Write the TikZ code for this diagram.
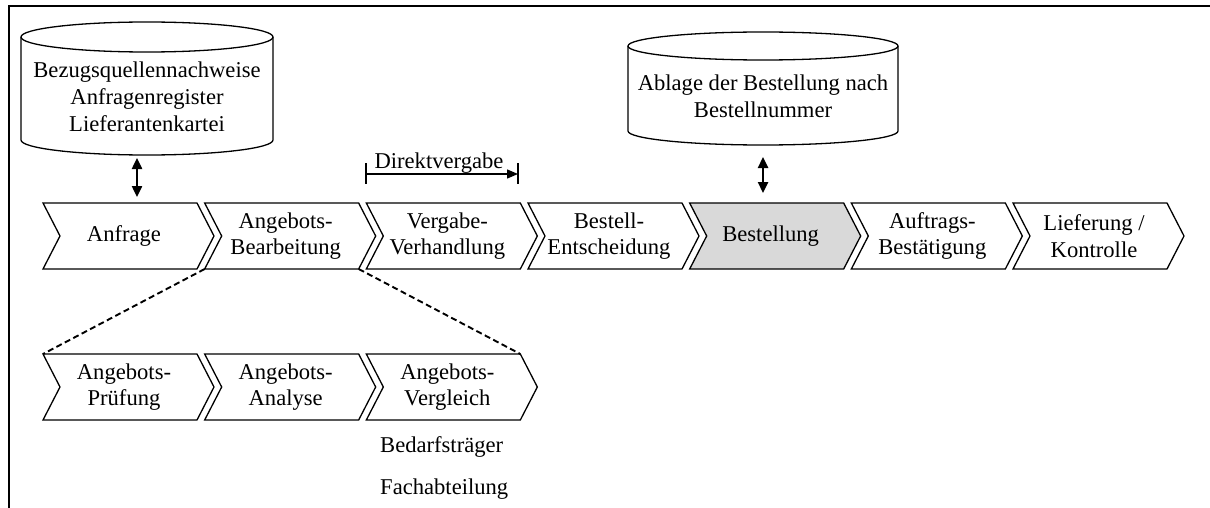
\documentclass[tikz,border=0pt]{standalone}
\usepackage{fontspec}
\setmainfont{Liberation Serif}
\usetikzlibrary{arrows.meta,calc}

% chevron step: name, left x, top y, fill colour, label
\newcommand\chevronstep[5]{%
  \draw[chevline, fill=#4] (#2,#3) coordinate (#1-tl) -- ++(154,0) coordinate (#1-tr)
    -- ++(17,33) -- ++(-17,33) coordinate (#1-br) -- ++(-154,0) coordinate (#1-bl)
    -- ++(17,-33) -- cycle;
  \node[lbl] (#1) at (#2+81,#3+33) {#5};
}

\definecolor{stepgray}{RGB}{217,217,217}

\begin{document}
\begin{tikzpicture}[x=1pt,y=-1pt,
  chevline/.style={draw=black, line width=1.3pt, line join=miter},
  cyl/.style={draw=black, line width=1.3pt},
  lbl/.style={align=center, font=\fontsize{22.6}{26.8}\selectfont, inner sep=0pt},
  dblarrow/.style={line width=2.4pt, {Triangle[length=11pt,width=10pt]}-{Triangle[length=11pt,width=10pt]}},
  dashline/.style={line width=1.9pt, dash pattern=on 6pt off 3.5pt},
  frameline/.style={line width=1.8pt}
]
\useasboundingbox (0,0) rectangle (1210,508);

% outer frame
\draw[frameline] (9,508) -- (9,6) -- (1210,6);

% data stores
\draw[cyl] (21,37) -- (21,140) arc[start angle=180,end angle=360,x radius=126pt,y radius=15pt] -- (273,37);
\draw[cyl] (147,37) ellipse[x radius=126pt,y radius=15pt];
\node[lbl] (db1) at (147,97) {Bezugsquellennachweise\\Anfragenregister\\Lieferantenkartei};

\draw[cyl] (628,46) -- (628,131) arc[start angle=180,end angle=360,x radius=135pt,y radius=14pt] -- (898,46);
\draw[cyl] (763,46) ellipse[x radius=135pt,y radius=14pt];
\node[lbl] (db2) at (763,96.5) {Ablage der Bestellung nach\\Bestellnummer};

% main process chain
\chevronstep{c1}{43}{203}{white}{Anfrage}
\chevronstep{c2}{204.67}{203}{white}{Angebots-\\Bearbeitung}
\chevronstep{c3}{366.33}{203}{white}{Vergabe-\\Verhandlung}
\chevronstep{c4}{528}{203}{white}{Bestell-\\Entscheidung}
\chevronstep{c5}{689.67}{203}{stepgray}{Bestellung}
\chevronstep{c6}{851.33}{203}{white}{Auftrags-\\Bestätigung}
\chevronstep{c7}{1013}{203}{white}{Lieferung /\\Kontrolle}

% detailed sub-steps
\chevronstep{s1}{43}{354}{white}{Angebots-\\Prüfung}
\chevronstep{s2}{204.67}{354}{white}{Angebots-\\Analyse}
\chevronstep{s3}{366.33}{354}{white}{Angebots-\\Vergleich}

\draw[dashline] (c2-bl) -- (s1-tl);
\draw[dashline] (c2-br) -- (s3-tr);

% store access arrows
\coordinate (db1-out) at (137,158);
\coordinate (c1-in) at (137,197);
\draw[dblarrow] (db1-out) -- (c1-in);
\coordinate (db2-out) at (763,157);
\coordinate (c5-in) at (763,193);
\draw[dblarrow] (db2-out) -- (c5-in);

% direct award span
\node[lbl, anchor=base] (dv) at (439,168) {Direktvergabe};
\coordinate (dv-l) at (366,174);
\coordinate (dv-r) at (518,174);
\draw[line width=1.3pt, -{Triangle[length=11pt,width=9pt]}] (dv-l) -- (dv-r);
\draw[line width=1.3pt] ($(dv-l)+(0,-11)$) -- ($(dv-l)+(0,10)$);
\draw[line width=1.3pt] ($(dv-r)+(0,-11)$) -- ($(dv-r)+(0,10)$);

% responsible parties
\node[lbl, anchor=base west] (bt) at (380,452) {Bedarfsträger};
\node[lbl, anchor=base west] (fa) at (380,494) {Fachabteilung};
\end{tikzpicture}
\end{document}
